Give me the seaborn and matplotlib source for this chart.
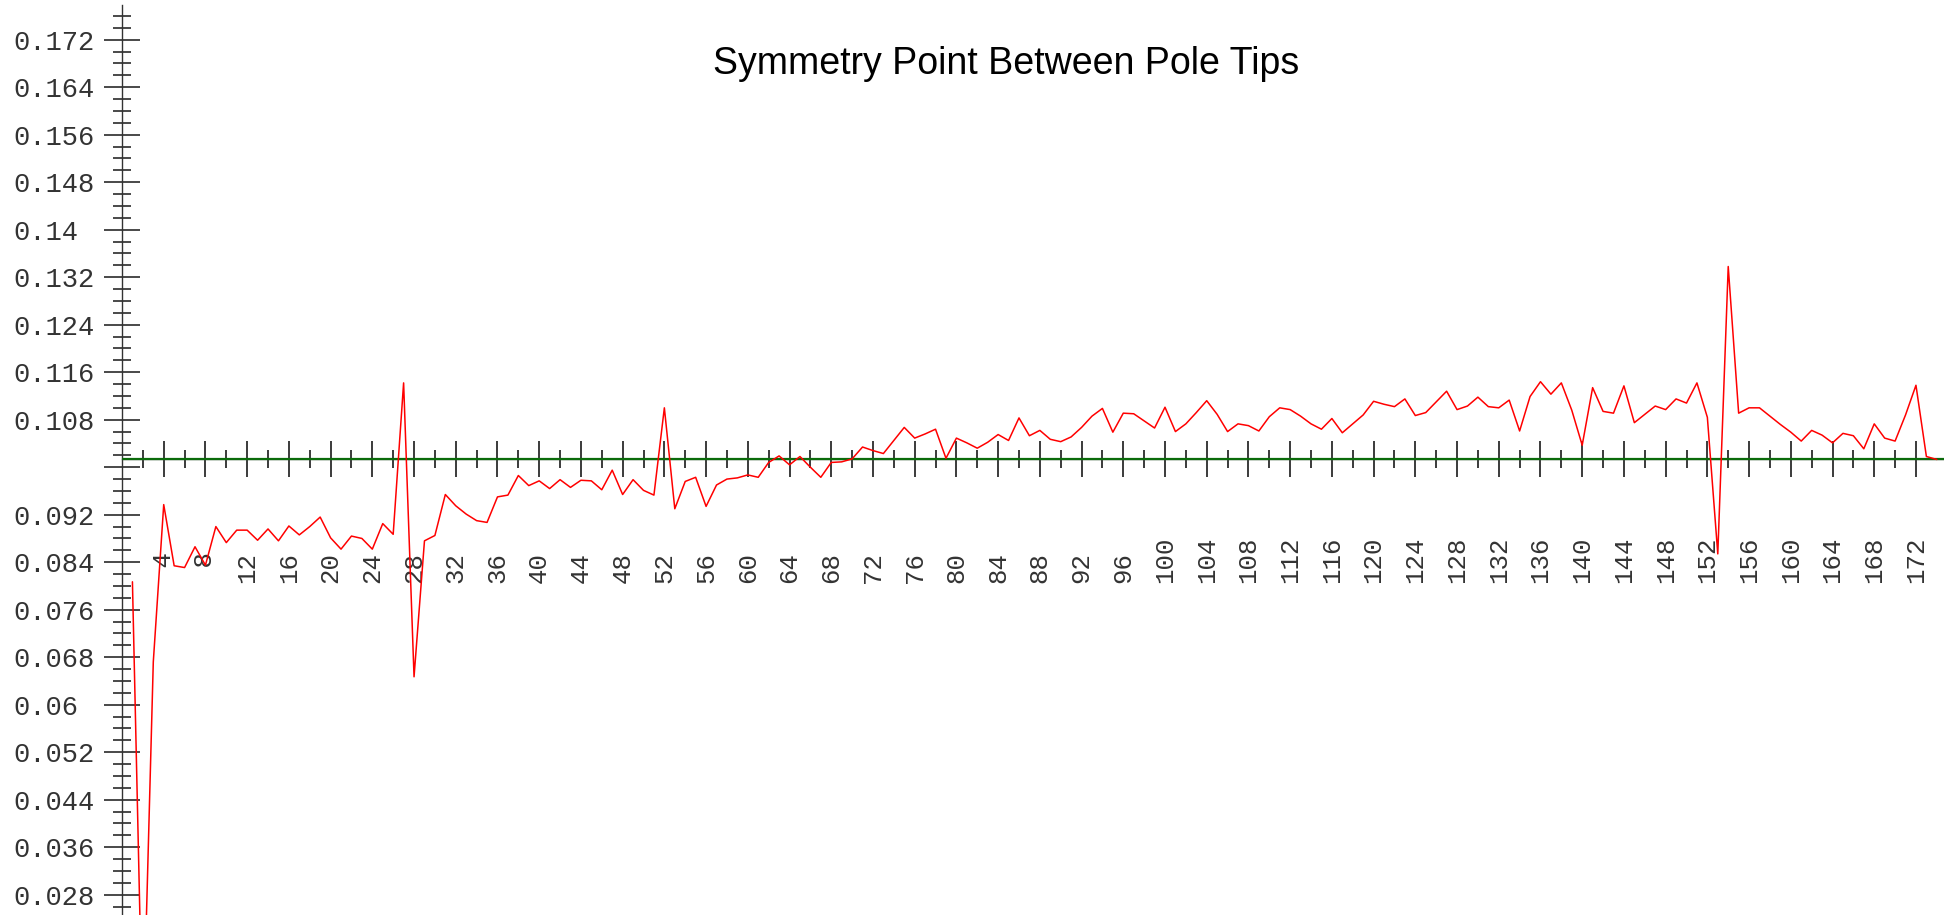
import matplotlib
matplotlib.use("Agg")
import matplotlib.pyplot as plt
import seaborn as sns
import numpy as np

# ---------------- data ----------------
title = "Symmetry Point Between Pole Tips"
positions = list(range(1, 175))
values = [
    0.0807, 0.0020, 0.0672, 0.0937, 0.0834, 0.0831, 0.0866, 0.0835, 0.0900, 0.0873,
    0.0894, 0.0894, 0.0877, 0.0896, 0.0876, 0.0901, 0.0886, 0.0900, 0.0916, 0.0881,
    0.0862, 0.0884, 0.0880, 0.0862, 0.0905, 0.0887, 0.1142, 0.0647, 0.0876, 0.0885,
    0.0954, 0.0935, 0.0921, 0.0910, 0.0907, 0.0950, 0.0953, 0.0986, 0.0969, 0.0977,
    0.0964, 0.0979, 0.0966, 0.0978, 0.0977, 0.0962, 0.0995, 0.0954, 0.0979, 0.0961,
    0.0953, 0.1100, 0.0930, 0.0976, 0.0983, 0.0934, 0.0970, 0.0980, 0.0982, 0.0987,
    0.0983, 0.1008, 0.1019, 0.1004, 0.1018, 0.1000, 0.0983, 0.1008, 0.1009, 0.1014,
    0.1034, 0.1028, 0.1023, 0.1045, 0.1067, 0.1049, 0.1056, 0.1064, 0.1015, 0.1049,
    0.1041, 0.1032, 0.1042, 0.1055, 0.1045, 0.1083, 0.1053, 0.1062, 0.1047, 0.1043,
    0.1051, 0.1067, 0.1086, 0.1099, 0.1059, 0.1091, 0.1090, 0.1078, 0.1066, 0.1101,
    0.1060, 0.1073, 0.1092, 0.1112, 0.1089, 0.1060, 0.1073, 0.1070, 0.1061, 0.1085,
    0.1100, 0.1097, 0.1086, 0.1073, 0.1064, 0.1082, 0.1058, 0.1073, 0.1088, 0.1111,
    0.1106, 0.1102, 0.1115, 0.1087, 0.1092, 0.1110, 0.1128, 0.1097, 0.1103, 0.1118,
    0.1102, 0.1100, 0.1113, 0.1061, 0.1119, 0.1144, 0.1123, 0.1142, 0.1096, 0.1037,
    0.1134, 0.1094, 0.1091, 0.1137, 0.1075, 0.1089, 0.1103, 0.1097, 0.1115, 0.1108,
    0.1142, 0.1084, 0.0854, 0.1338, 0.1091, 0.1100, 0.1100, 0.1086, 0.1072, 0.1059,
    0.1044, 0.1062, 0.1054, 0.1041, 0.1057, 0.1053, 0.1031, 0.1073, 0.1049, 0.1044,
    0.1088, 0.1138, 0.1018, 0.1013,
]
axis_cross = 0.10143
x_major = list(range(4, 173, 4))
x_minor = list(range(2, 173, 2))
y_major = [round(0.028 + 0.008 * i, 3) for i in range(19)]
y_minor = [round(0.026 + 0.002 * i, 3) for i in range(76)]
y_labels = ["" if abs(v - 0.1) < 1e-9 else f"{v:.3f}".rstrip("0") for v in y_major]
x_labels = [f"{n:2d}" for n in x_major]

# ---------------- figure ----------------
sns.set_style("white")
plt.rcParams["font.family"] = ["Liberation Sans", "DejaVu Sans"]

W, H = 1944, 915
fig = plt.figure(figsize=(W / 100, H / 100), dpi=100)
left = 122 / W
ax = fig.add_axes([left, 0, 1 - left, 1])
ax.set_facecolor("white")

px_per_x = 10.43
px_per_y = 5937.5
ylo = 0.028 - 20.3 / px_per_y
ax.set_xlim(0, (W - 122) / px_per_x)
ax.set_ylim(ylo, ylo + H / px_per_y)

sns.lineplot(x=positions, y=values, color="red", linewidth=1.1, ax=ax, zorder=6)
ax.axhline(axis_cross, color="#0b6b0b", linewidth=1.6, zorder=4)

for s in ["top", "right"]:
    ax.spines[s].set_visible(False)
ax.spines["left"].set_color("#333333")
ax.spines["left"].set_linewidth(1.0)
ax.spines["left"].set_bounds(ylo, 0.1778)
ax.spines["bottom"].set_position(("data", axis_cross))
ax.spines["bottom"].set_color("#555555")
ax.spines["bottom"].set_linewidth(1.0)

mono = "Liberation Mono"
ax.set_xticks(x_major)
ax.set_xticks(x_minor, minor=True)
ax.set_xticklabels(x_labels, rotation=90, fontfamily=mono, fontsize=18.5, color="#333333")
for lab in ax.get_xticklabels():
    lab.set_va("bottom")

ax.set_yticks(y_major)
ax.set_yticks(y_minor, minor=True)
ax.set_yticklabels(y_labels, fontfamily=mono, fontsize=19.5, color="#333333")
for lab in ax.get_yticklabels():
    lab.set_ha("left")

maj_len = 25.5
min_len = 12.8
ax.tick_params(axis="x", which="both", bottom=True, top=False)
ax.tick_params(axis="y", which="both", left=True, right=False)
ax.tick_params(axis="x", which="major", direction="inout", length=maj_len, width=1.2,
               color="#1a1a1a", pad=89.5 - maj_len / 2)
ax.tick_params(axis="x", which="minor", direction="inout", length=min_len, width=1.2,
               color="#1a1a1a")
ax.tick_params(axis="y", which="major", direction="inout", length=maj_len, width=1.2,
               color="#2a2a2a", pad=78.5 - maj_len / 2)
ax.tick_params(axis="y", which="minor", direction="inout", length=min_len, width=1.2,
               color="#2a2a2a")
ax.set_xlabel("")
ax.set_ylabel("")
ax.grid(False)

ax.set_title(title, x=(1006 - 122) / (W - 122), y=1 - 72 / H, va="center",
             fontsize=27, color="black", family=["Liberation Sans", "DejaVu Sans"])

fig.savefig("out.png", dpi=100)
